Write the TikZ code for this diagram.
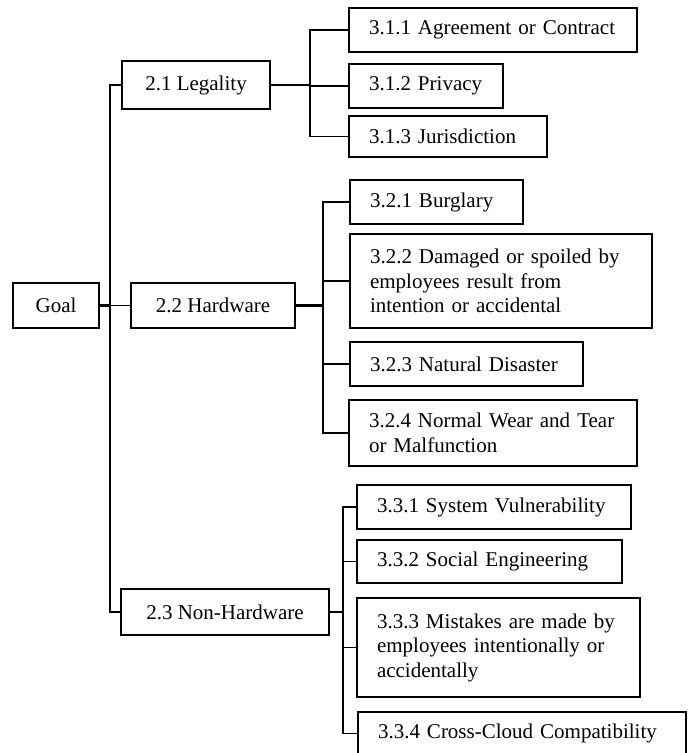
\documentclass[tikz,border=0pt]{standalone}
\usepackage{fontspec}
\setmainfont{Liberation Serif}
\begin{document}
\begin{tikzpicture}[x=1pt,y=-1pt,
  every node/.style={font=\fontsize{21}{24.5}\selectfont},
  box/.style={draw=black, line width=1.6pt, rectangle, inner ysep=0pt},
  midbox/.style={box, align=center, inner xsep=4pt},
  leaf/.style={box, align=left, inner xsep=20pt},
  link/.style={draw=black, line width=1.6pt},
  stub/.style={draw=black, line width=2.6pt}]
\clip (0,0) rectangle (690,753);
\fill[white] (0,0) rectangle (690,753);

% root and second level
\node[midbox, minimum width=86, minimum height=45] (goal) at (56,305.5) {Goal};
\node[midbox, minimum width=148, minimum height=48] (legal) at (196,85) {2.1 Legality};
\node[midbox, minimum width=164, minimum height=45] (hard) at (213,305.5) {2.2 Hardware};
\node[midbox, minimum width=208, minimum height=46] (nonhard) at (225,612) {2.3 Non-Hardware};

% third level: legality
\node[leaf, minimum width=288, minimum height=44, text width=248] (t311) at (493,30) {3.1.1 Agreement or Contract};
\node[leaf, minimum width=154, minimum height=44, text width=114] (t312) at (426,86) {3.1.2 Privacy};
\node[leaf, minimum width=198, minimum height=41, text width=158] (t313) at (448,136.5) {3.1.3 Jurisdiction};

% third level: hardware
\node[leaf, minimum width=173, minimum height=44, text width=133] (t321) at (436.5,202) {3.2.1 Burglary};
\node[leaf, minimum width=302, minimum height=94, text width=262] (t322) at (501,281) {3.2.2 Damaged or spoiled by\\employees result from\\intention or accidental};
\node[leaf, minimum width=233, minimum height=44, text width=193] (t323) at (466.5,364) {3.2.3 Natural Disaster};
\node[leaf, minimum width=288, minimum height=66, text width=248] (t324) at (493,433) {3.2.4 Normal Wear and Tear\\or Malfunction};

% third level: non-hardware
\node[leaf, minimum width=274, minimum height=44, text width=234] (t331) at (494,507) {3.3.1 System Vulnerability};
\node[leaf, minimum width=265, minimum height=43, text width=225] (t332) at (489.5,561.5) {3.3.2 Social Engineering};
\node[leaf, minimum width=283, minimum height=99, text width=243] (t333) at (498.5,647.5) {3.3.3 Mistakes are made by\\employees intentionally or\\accidentally};
\node[leaf, minimum width=328, minimum height=43, text width=288] (t334) at (522,733.5) {3.3.4 Cross-Cloud Compatibility};

% bus positions
\coordinate (b0) at (110,0);
\coordinate (b1) at (310,0);
\coordinate (b2) at (323,0);
\coordinate (b3) at (343,0);

% goal to second level
\draw[stub] (goal.east) -- (goal.east -| b0);
\draw[link] (legal.west) -- (legal.west -| b0) -- (nonhard.west -| b0) -- (nonhard.west);
\draw[link] (hard.west) -- (hard.west -| b0);

% legality branches
\draw[stub] (legal.east) -- (legal.east -| b1);
\draw[link] (t311.west) -- (t311.west -| b1) -- (t313.west -| b1) -- (t313.west);
\draw[link] (t312.west) -- (t312.west -| b1);

% hardware branches
\draw[stub] (hard.east) -- (hard.east -| b2);
\draw[link] (t321.west) -- (t321.west -| b2) -- (t324.west -| b2) -- (t324.west);
\draw[link] (t322.west) -- (t322.west -| b2);
\draw[link] (t323.west) -- (t323.west -| b2);

% non-hardware branches
\draw[stub] (nonhard.east) -- (nonhard.east -| b3);
\draw[link] (t331.west) -- (t331.west -| b3) -- (t334.west -| b3) -- (t334.west);
\draw[link] (t332.west) -- (t332.west -| b3);
\draw[link] (t333.west) -- (t333.west -| b3);
\end{tikzpicture}
\end{document}
